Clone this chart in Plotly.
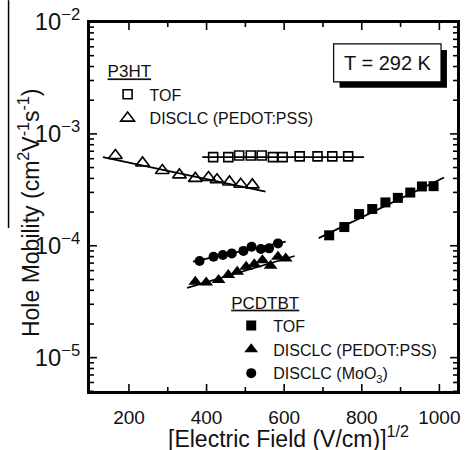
import math
import plotly.graph_objects as go

# ---- data ----
p3ht_tof_x = [417, 456, 484, 514, 542, 571, 596, 640, 686, 724, 765]
p3ht_tof_y = [6.2e-4, 6.2e-4, 6.4e-4, 6.4e-4, 6.4e-4, 6.2e-4, 6.2e-4, 6.3e-4, 6.3e-4, 6.3e-4, 6.3e-4]

p3ht_dis_x = [165, 235, 286, 330, 371, 405, 427, 459, 488, 518]
p3ht_dis_y = [6.4e-4, 5.5e-4, 4.7e-4, 4.3e-4, 4.0e-4, 4.07e-4, 3.89e-4, 3.72e-4, 3.55e-4, 3.5e-4]

pcdtbt_tof_x = [716, 755, 793, 827, 861, 893, 925, 955, 985]
pcdtbt_tof_y = [1.24e-4, 1.47e-4, 1.92e-4, 2.13e-4, 2.44e-4, 2.68e-4, 2.99e-4, 3.39e-4, 3.41e-4]

pcdtbt_dis_x = [371, 399, 431, 456, 479, 502, 523, 544, 565, 584, 604]
pcdtbt_dis_y = [4.77e-5, 4.7e-5, 4.94e-5, 5.47e-5, 5.86e-5, 6.49e-5, 6.82e-5, 7.44e-5, 6.64e-5, 7.97e-5, 7.71e-5]

pcdtbt_moo3_x = [382, 418, 442, 465, 495, 516, 540, 561, 584]
pcdtbt_moo3_y = [7.3e-5, 7.97e-5, 8.26e-5, 8.55e-5, 9.0e-5, 9.8e-5, 9.35e-5, 9.48e-5, 1.05e-4]

# fit lines (end points)
fit_p3ht_tof_x = [389, 806]
fit_p3ht_tof_y = [6.2e-4, 6.2e-4]
fit_p3ht_dis_x = [133, 552]
fit_p3ht_dis_y = [6.2e-4, 3.05e-4]
fit_pcdtbt_tof_x = [689, 1012]
fit_pcdtbt_tof_y = [1.17e-4, 4.07e-4]
fit_pcdtbt_dis_x = [350, 627]
fit_pcdtbt_dis_y = [4.2e-5, 8.1e-5]
fit_pcdtbt_moo3_x = [365, 604]
fit_pcdtbt_moo3_y = [7.2e-5, 1.09e-4]

# tick values
x_tick_vals = [200, 400, 600, 800, 1000]
x_minor_vals = [300, 500, 700, 900]
y_tick_vals = [1e-5, 1e-4, 1e-3]
y_minor_vals = [5e-6, 6e-6, 7e-6, 8e-6, 9e-6,
                2e-5, 3e-5, 4e-5, 5e-5, 6e-5, 7e-5, 8e-5, 9e-5,
                2e-4, 3e-4, 4e-4, 5e-4, 6e-4, 7e-4, 8e-4, 9e-4,
                2e-3, 3e-3, 4e-3, 5e-3, 6e-3, 7e-3, 8e-3, 9e-3]

X_RANGE = [97, 1048]
Y_RANGE = [-5.307, -2]

W, H = 465, 450
ML, MR, MT, MB = 89, 5, 22, 58
PW, PH = W - ML - MR, H - MT - MB

FONT = "Arial, Liberation Sans, sans-serif"
INK = "#111111"

fig = go.Figure()

for fx, fy in [(fit_p3ht_tof_x, fit_p3ht_tof_y), (fit_p3ht_dis_x, fit_p3ht_dis_y),
               (fit_pcdtbt_tof_x, fit_pcdtbt_tof_y), (fit_pcdtbt_dis_x, fit_pcdtbt_dis_y),
               (fit_pcdtbt_moo3_x, fit_pcdtbt_moo3_y)]:
    fig.add_trace(go.Scatter(x=fx, y=fy, mode="lines", line=dict(color="black", width=1.8),
                             showlegend=False, hoverinfo="skip"))

fig.add_trace(go.Scatter(x=p3ht_tof_x, y=p3ht_tof_y, mode="markers", name="TOF",
                         marker=dict(symbol="square-open", size=9, color="black", line=dict(width=1.6)),
                         legend="legend"))
fig.add_trace(go.Scatter(x=p3ht_dis_x, y=p3ht_dis_y, mode="markers", name="DISCLC (PEDOT:PSS)",
                         marker=dict(symbol="triangle-up-open", size=12, color="black", line=dict(width=1.6)),
                         legend="legend"))
fig.add_trace(go.Scatter(x=pcdtbt_tof_x, y=pcdtbt_tof_y, mode="markers", name="TOF",
                         marker=dict(symbol="square", size=10, color="black"),
                         legend="legend2"))
fig.add_trace(go.Scatter(x=pcdtbt_dis_x, y=pcdtbt_dis_y, mode="markers", name="DISCLC (PEDOT:PSS)",
                         marker=dict(symbol="triangle-up", size=12, color="black"),
                         legend="legend2"))
fig.add_trace(go.Scatter(x=pcdtbt_moo3_x, y=pcdtbt_moo3_y, mode="markers", name="DISCLC (MoO<sub>3</sub>)",
                         marker=dict(symbol="circle", size=10, color="black"),
                         legend="legend2"))

axis_common = dict(showline=True, linewidth=2, linecolor="black", mirror=True,
                   ticks="", showgrid=False, zeroline=False,
                   tickfont=dict(family=FONT, size=19, color=INK))

fig.update_layout(
    xaxis=dict(range=X_RANGE, tickvals=x_tick_vals, ticklabelstandoff=7, **axis_common),
    yaxis=dict(type="log", range=Y_RANGE, dtick=1, exponentformat="power",
               ticklabelstandoff=3, **axis_common),
)

# plot frame, drawn as four edges
frame_line = dict(color="black", width=2)
for x0, y0, x1, y1 in ((0, 0, 1, 0), (0, 1, 1, 1), (0, 0, 0, 1), (1, 0, 1, 1)):
    fig.add_shape(type="line", xref="paper", yref="paper", x0=x0, y0=y0, x1=x1, y1=y1,
                  line=frame_line, layer="above")

# inside tick marks on all four sides
def yfrac(v):
    return (math.log10(v) - Y_RANGE[0]) / (Y_RANGE[1] - Y_RANGE[0])

def xfrac(v):
    return (v - X_RANGE[0]) / (X_RANGE[1] - X_RANGE[0])

tick_line = dict(color="black", width=1.6)
for vals, ln in ((x_tick_vals, 8), (x_minor_vals, 5)):
    for v in vals:
        f = ln / PH
        p = xfrac(v)
        fig.add_shape(type="line", xref="paper", yref="paper", x0=p, x1=p, y0=0, y1=f,
                      line=tick_line, layer="above")
        fig.add_shape(type="line", xref="paper", yref="paper", x0=p, x1=p, y0=1, y1=1 - f,
                      line=tick_line, layer="above")
for vals, ln in ((y_tick_vals, 8), (y_minor_vals, 5)):
    for v in vals:
        f = ln / PW
        p = yfrac(v)
        fig.add_shape(type="line", xref="paper", yref="paper", x0=0, x1=f, y0=p, y1=p,
                      line=tick_line, layer="above")
        fig.add_shape(type="line", xref="paper", yref="paper", x0=1, x1=1 - f, y0=p, y1=p,
                      line=tick_line, layer="above")

legend_common = dict(font=dict(family=FONT, size=16, color=INK), bgcolor="rgba(0,0,0,0)",
                     borderwidth=0, xanchor="left", yanchor="top", tracegroupgap=0, itemwidth=34)
fig.update_layout(
    width=W, height=H,
    margin=dict(l=ML, r=MR, t=MT, b=MB),
    paper_bgcolor="white", plot_bgcolor="white",
    legend=dict(x=0.045, y=0.91,
                title=dict(text="<u>P3HT</u>", font=dict(family=FONT, size=17, color=INK)),
                **legend_common),
    legend2=dict(x=0.38, y=0.285,
                 title=dict(text="<u>PCDTBT</u>", font=dict(family=FONT, size=17, color=INK)),
                 **legend_common),
)

# T = 292 K box with drop shadow
fig.add_shape(type="rect", xref="paper", yref="paper", x0=0.679, x1=0.970, y0=0.822, y1=0.924,
              fillcolor="black", line=dict(width=0), layer="above")
fig.add_shape(type="rect", xref="paper", yref="paper", x0=0.663, x1=0.954, y0=0.838, y1=0.941,
              fillcolor="white", line=dict(color="black", width=1.2), layer="above")
fig.add_annotation(text="T = 292 K", xref="paper", yref="paper", x=0.809, y=0.889,
                   xanchor="center", yanchor="middle",
                   showarrow=False, font=dict(family=FONT, size=20, color=INK))

# axis titles
fig.add_annotation(text="Hole Mobility (cm<sup>2</sup>V<sup>-1</sup>s<sup>-1</sup>)",
                   xref="paper", yref="paper", x=-0.164, y=0.485, textangle=-90,
                   xanchor="center", yanchor="middle",
                   showarrow=False, font=dict(family=FONT, size=23, color=INK))
fig.add_annotation(text="[Electric Field (V/cm)]<sup>1/2</sup>",
                   xref="paper", yref="paper", x=0.542, y=-0.121,
                   xanchor="center", yanchor="middle",
                   showarrow=False, font=dict(family=FONT, size=23, color=INK))

# thin vertical line at left edge present in the reference image
fig.add_shape(type="line", xref="paper", yref="paper", x0=-0.218, x1=-0.218, y0=1.059, y1=0.443,
              line=dict(color="black", width=1.5))

fig.write_html("out.html", config={"displayModeBar": False},
               post_script="document.body.style.margin='0px';")
